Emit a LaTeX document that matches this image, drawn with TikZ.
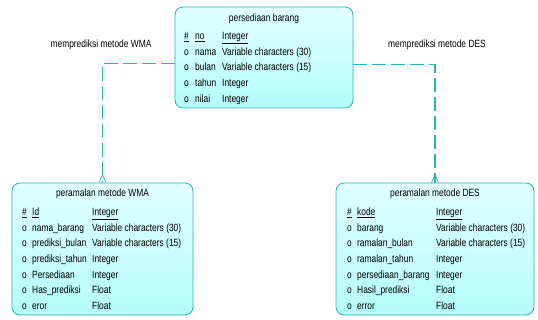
\documentclass[tikz,border=0pt]{standalone}
\usepackage{fontspec}
\setmainfont{Liberation Sans}[FakeStretch=0.8]
\usetikzlibrary{positioning}

\definecolor{tosca}{RGB}{40,180,180}
\definecolor{isiatas}{RGB}{225,255,255}
\definecolor{isibawah}{RGB}{180,252,252}

\tikzset{
    entitas/.style={draw=tosca, line width=0.8pt, rounded corners=8pt,
        top color=isiatas, bottom color=isibawah, inner sep=0pt},
    judul/.style={inner sep=0pt, font=\fontsize{10.5}{12}\selectfont},
    isi/.style={inner sep=0pt, anchor=north west, align=left,
        font=\fontsize{10.5}{15.7}\selectfont},
    relasi/.style={draw=tosca, line width=1.8pt, dash pattern=on 14pt off 5pt},
    kaki/.style={draw=tosca, line width=0.7pt}
}

\begin{document}
\begin{tikzpicture}[x=1pt, y=-1pt]
        \useasboundingbox (0,0) rectangle (538,320);

        %%entitas
        \node[entitas, minimum width=178pt, minimum height=101pt] (barang) at (264,57.5) {};
        \node[entitas, minimum width=181pt, minimum height=132pt] (wma) at (102.5,249) {};
        \node[entitas, minimum width=198pt, minimum height=132pt] (des) at (435,249) {};

        %%relasi
        \draw[relasi] ([yshift=-6pt]barang.west) -| (wma.north);
        \draw[relasi] ([yshift=-7pt]barang.east) -| (des.north);
            \draw[kaki] ([xshift=-3.5pt]wma.north) -- ([yshift=8pt]wma.north) -- ([xshift=3.5pt]wma.north);
            \draw[kaki] ([xshift=-3.5pt]des.north) -- ([yshift=8pt]des.north) -- ([xshift=3.5pt]des.north);
        \node[judul] (lbl-wma) at (101,45) {memprediksi metode WMA};
        \node[judul] (lbl-des) at (437,45) {memprediksi metode DES};

        %%persediaan barang
        \node[judul] (barang-judul) at (264,19) {persediaan barang};
        \node[isi] (barang-isi) at (184,28.3) {%
            \begin{tabular}{@{}p{11pt}@{}p{27pt}@{}l@{}}
                \underline{\#} & \underline{no} & \underline{Integer}\\
                o & nama & Variable characters (30)\\
                o & bulan & Variable characters (15)\\
                o & tahun & Integer\\
                o & nilai & Integer
            \end{tabular}};

        %%peramalan metode WMA
        \node[judul] (wma-judul) at (102.5,194) {peramalan metode WMA};
        \node[isi] (wma-isi) at (22,204.3) {%
            \begin{tabular}{@{}p{10pt}@{}p{60pt}@{}l@{}}
                \underline{\#} & \underline{Id} & \underline{Integer}\\
                o & nama\_barang & Variable characters (30)\\
                o & prediksi\_bulan & Variable characters (15)\\
                o & prediksi\_tahun & Integer\\
                o & Persediaan & Integer\\
                o & Has\_prediksi & Float\\
                o & eror & Float
            \end{tabular}};

        %%peramalan metode DES
        \node[judul] (des-judul) at (435,194) {peramalan metode DES};
        \node[isi] (des-isi) at (347,204.3) {%
            \begin{tabular}{@{}p{10pt}@{}p{79pt}@{}l@{}}
                \underline{\#} & \underline{kode} & \underline{Integer}\\
                o & barang & Variable characters (30)\\
                o & ramalan\_bulan & Variable characters (15)\\
                o & ramalan\_tahun & Integer\\
                o & persediaan\_barang & Integer\\
                o & Hasil\_prediksi & Float\\
                o & error & Float
            \end{tabular}};
    \end{tikzpicture}
\end{document}
